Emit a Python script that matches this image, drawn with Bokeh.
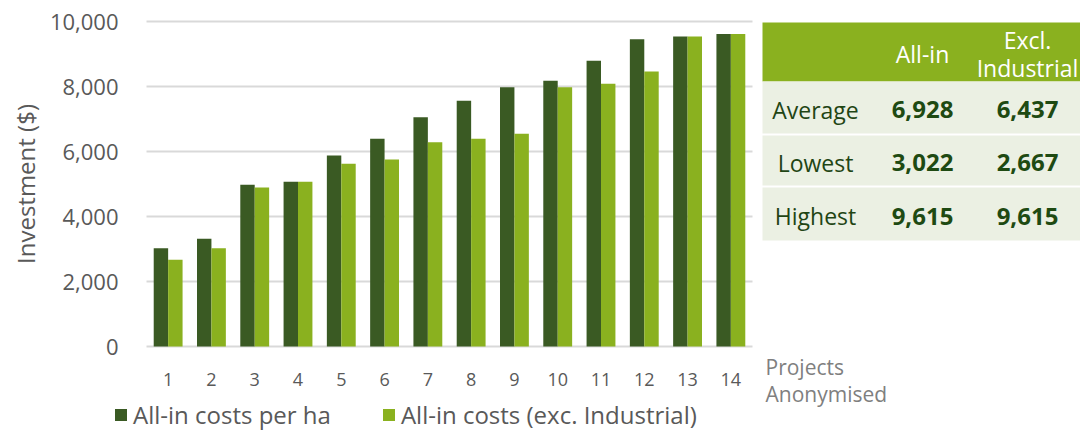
from bokeh.plotting import figure
from bokeh.models import (Range1d, Legend, LegendItem, FixedTicker,
                          NumeralTickFormatter)
from bokeh.embed import file_html
from bokeh.resources import INLINE
from bokeh.core.properties import value

# ---------------- data ----------------
projects = list(range(1, 15))
all_in = [3022, 3313, 4974, 5067, 5877, 6390, 7056, 7559, 7979, 8174, 8790, 9456, 9538, 9615]
excl_industrial = [2667, 3022, 4892, 5067, 5621, 5754, 6287, 6390, 6544, 7979, 8082, 8462, 9538, 9615]
series_names = ["All-in costs per ha", "All-in costs (exc. Industrial)"]
y_ticks = [0, 2000, 4000, 6000, 8000, 10000]

table_columns = ["All-in", "Excl.\nIndustrial"]
table_rows = ["Average", "Lowest", "Highest"]
table_all_in = ["6,928", "3,022", "9,615"]
table_excl = ["6,437", "2,667", "9,615"]
x_title = "Projects\nAnonymised"

DARK = "#3A5A23"
LIGHT = "#8AB11F"
GRID = "#D9D9D9"
TXT = "#595959"
FONT = "Open Sans"

W, H = 1080, 431
# plot area in canvas pixels
PX0, PX1 = 146, 752          # x of category 0.5 and 14.5
PY_TOP, PY_ZERO = 21, 346    # y of 10000 and 0
ux = (PX1 - PX0) / 14.0
uy = (PY_ZERO - PY_TOP) / 10000.0
x_start = 0.5 - PX0 / ux
x_end = 0.5 + (W - PX0) / ux
y_end = 10000 + PY_TOP / uy
y_start = -(H - PY_ZERO) / uy

p = figure(width=W, height=H, x_range=Range1d(x_start, x_end),
           y_range=Range1d(y_start, y_end), output_backend="svg",
           toolbar_location=None, min_border=0, min_border_left=0,
           min_border_right=0, min_border_top=0, min_border_bottom=0)
p.outline_line_color = None

p.extra_x_ranges = {"px": Range1d(0, W)}
p.extra_y_ranges = {"px": Range1d(H, 0)}

src = dict(x=projects, a=all_in, b=excl_industrial,
           xa=[v - 1/6 for v in projects], xb=[v + 1/6 for v in projects])
r1 = p.vbar(x="xa", top="a", width=1/3, source=src, fill_color=DARK, line_color=None)
r2 = p.vbar(x="xb", top="b", width=1/3, source=src, fill_color=LIGHT, line_color=None)

p.xgrid.grid_line_color = None
p.ygrid.ticker = FixedTicker(ticks=y_ticks)
p.ygrid.grid_line_color = GRID
p.ygrid.grid_line_width = 1.8
p.ygrid.cross_bounds = (0.5, 14.5)

xa = p.xaxis[0]
ya = p.yaxis[0]
xa.fixed_location = 0
ya.fixed_location = 0.5
xa.ticker = FixedTicker(ticks=projects)
xa.bounds = (0.5, 14.5)
ya.ticker = FixedTicker(ticks=y_ticks)
ya.bounds = (0, 10000)
ya.formatter = NumeralTickFormatter(format="0,0")
for ax in (xa, ya):
    ax.axis_line_color = None
    ax.major_tick_line_color = None
    ax.minor_tick_line_color = None
    ax.major_label_text_color = TXT
    ax.major_label_text_font = FONT
ya.major_label_text_font_size = "22px"
ya.major_label_standoff = 22
ya.axis_label = "Investment ($)"
ya.axis_label_text_font = FONT
ya.axis_label_text_font_size = "24px"
ya.axis_label_text_font_style = "normal"
ya.axis_label_text_color = TXT
ya.axis_label_standoff = 5
xa.major_label_text_font_size = "18px"
xa.major_label_standoff = 20

legend = Legend(items=[LegendItem(label=series_names[0], renderers=[r1]),
                       LegendItem(label=series_names[1], renderers=[r2])],
                orientation="horizontal", location=(113, 0),
                glyph_width=15, glyph_height=15, label_standoff=5,
                spacing=50, padding=0, margin=0,
                border_line_color=None, background_fill_alpha=0,
                label_text_font=FONT, label_text_font_size="24px",
                label_text_color=TXT)
p.add_layout(legend, "center")

# ---------------- summary table (canvas-pixel range) ----------------
TX0, TX1 = 762, W
kw = dict(x_range_name="px", y_range_name="px")
p.quad(left=[TX0], right=[TX1], top=[22], bottom=[81], fill_color=LIGHT,
       line_color=None, **kw)
row_top = [81, 135, 187]
row_bot = [133, 185, 240]
p.quad(left=[TX0] * 3, right=[TX1] * 3, top=row_top, bottom=row_bot,
       fill_color="#EBF0E3", line_color=None, **kw)

col_x = [815, 922, 1027]
head_y = 53
for cx, label in zip(col_x[1:], table_columns):
    lines = label.split("\n")
    n = len(lines)
    ys = [head_y + (i - (n - 1) / 2) * 28 for i in range(n)]
    p.text(x=[cx] * n, y=ys, text=lines, text_font=value(FONT),
           text_font_size="23px", text_color="white", text_align="center",
           text_baseline="middle", **kw)

row_y = [(a + b) / 2 + 2 for a, b in zip(row_top, row_bot)]
p.text(x=[col_x[0]] * 3, y=row_y, text=table_rows, text_font=value(FONT),
       text_font_size="23px", text_color="#1F4514", text_align="center",
       text_baseline="middle", **kw)
p.text(x=[col_x[1]] * 3, y=row_y, text=table_all_in, text_font=value(FONT),
       text_font_size="24px", text_font_style="bold", text_color="#1E4A12",
       text_align="center", text_baseline="middle", **kw)
p.text(x=[col_x[2]] * 3, y=row_y, text=table_excl, text_font=value(FONT),
       text_font_size="24px", text_font_style="bold", text_color="#1E4A12",
       text_align="center", text_baseline="middle", **kw)

t_lines = x_title.split("\n")
p.text(x=[765] * len(t_lines), y=[366 + 27 * i for i in range(len(t_lines))],
       text=t_lines, text_font=value(FONT), text_font_size="21px",
       text_color="#7F7F7F", text_align="left", text_baseline="middle", **kw)

open("out.html", "w").write(file_html(p, INLINE))
